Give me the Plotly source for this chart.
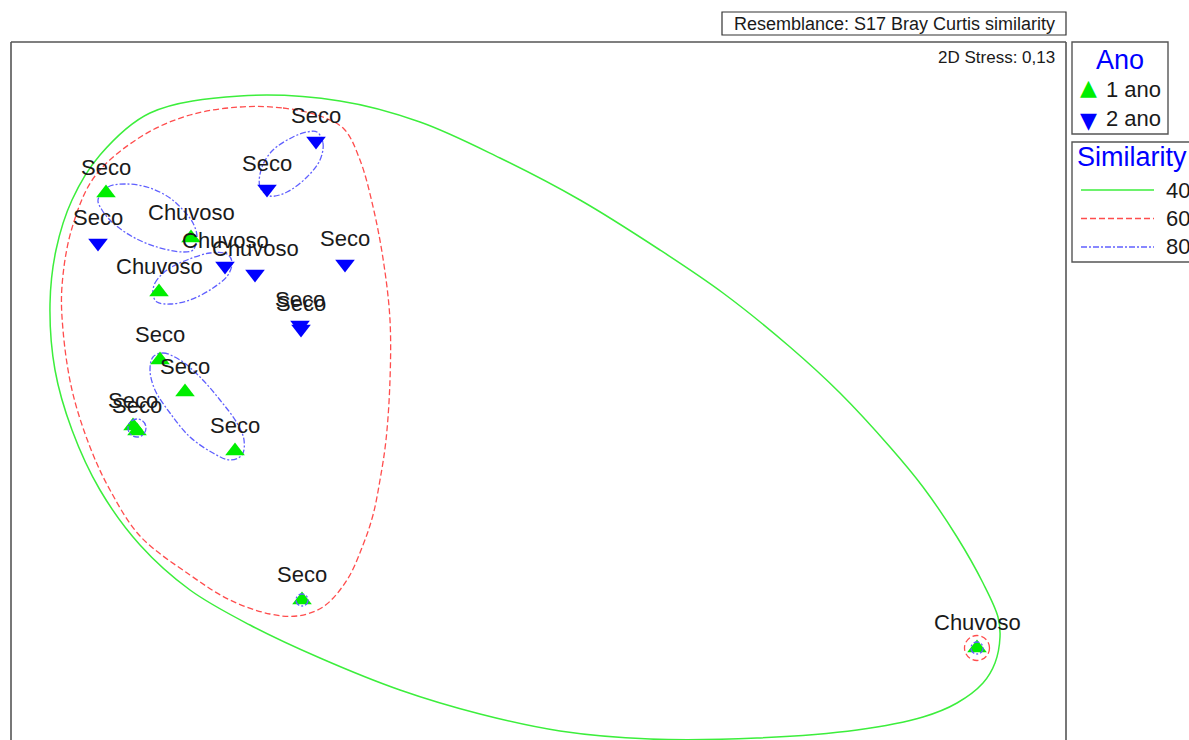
import plotly.graph_objects as go

# ---------------- data (NMDS coordinates, arbitrary units) ----------------
ano1_x = [-4.34, -3.49, -3.81, -3.80, -3.55, -4.07, -4.03, -3.05, -2.38, 4.37]
ano1_y = [1.97, 1.52, 0.98, 0.30, -0.02, -0.36, -0.41, -0.61, -2.10, -2.58]
ano1_lbl = ["Seco", "Chuvoso", "Chuvoso", "Seco", "Seco", "Seco", "Seco", "Seco", "Seco", "Chuvoso"]

ano2_x = [-4.42, -3.15, -2.85, -2.24, -2.73, -1.95, -2.40, -2.39]
ano2_y = [1.47, 1.24, 1.16, 2.49, 2.01, 1.26, 0.65, 0.61]
ano2_lbl = ["Seco", "Chuvoso", "Chuvoso", "Seco", "Seco", "Seco", "Seco", "Seco"]

# similarity contours (closed; first point repeated at end)
c40_x = [-3.00, -2.00, -1.20, -0.40, 0.40, 1.20, 1.83, 2.50, 3.00, 3.50, 3.83, 4.17, 4.43, 4.58, 4.60,
         4.55, 4.43, 4.17, 3.83, 3.17, 2.17, 1.10, 0.20, -0.60, -1.40, -2.20, -2.90, -3.50, -4.00,
         -4.40, -4.68, -4.85, -4.90, -4.84, -4.68, -4.40, -3.90, -3.00]
c40_y = [2.94, 2.89, 2.68, 2.32, 1.90, 1.40, 0.97, 0.43, -0.03, -0.57, -0.97, -1.47, -1.93, -2.27, -2.47,
         -2.73, -2.93, -3.13, -3.27, -3.40, -3.48, -3.49, -3.41, -3.24, -3.00, -2.68, -2.35, -2.00, -1.55,
         -1.00, -0.40, 0.20, 0.86, 1.40, 1.90, 2.35, 2.77, 2.94]

c60_x = [-3.00, -2.57, -2.20, -1.96, -1.80, -1.66, -1.56, -1.50, -1.50, -1.54, -1.60, -1.67, -1.77, -1.93,
         -2.17, -2.43, -2.70, -3.10, -3.50, -4.00, -4.30, -4.50, -4.68, -4.77, -4.78, -4.68, -4.45, -3.98,
         -3.50, -3.00]
c60_y = [2.83, 2.82, 2.74, 2.61, 2.30, 1.79, 1.25, 0.70, 0.10, -0.50, -0.90, -1.25, -1.55, -1.90,
         -2.17, -2.26, -2.24, -2.10, -1.85, -1.46, -1.00, -0.57, 0.00, 0.60, 1.04, 1.62, 2.14, 2.54,
         2.75, 2.83]

c80a_x = [-4.42, -4.32, -4.13, -3.90, -3.70, -3.57, -3.47, -3.43, -3.47, -3.57, -3.83, -4.07, -4.27, -4.38, -4.42]
c80a_y = [1.90, 2.03, 2.06, 2.02, 1.92, 1.80, 1.67, 1.53, 1.40, 1.38, 1.43, 1.53, 1.67, 1.80, 1.90]

c80b_x = [-2.23, -2.17, -2.20, -2.33, -2.53, -2.70, -2.80, -2.78, -2.67, -2.47, -2.33, -2.23]
c80b_y = [2.58, 2.47, 2.30, 2.13, 1.98, 1.94, 2.03, 2.23, 2.40, 2.53, 2.58, 2.58]

c80c_x = [-3.87, -3.85, -3.73, -3.53, -3.30, -3.13, -3.08, -3.12, -3.27, -3.50, -3.70, -3.83, -3.87]
c80c_y = [0.95, 1.07, 1.20, 1.30, 1.37, 1.36, 1.28, 1.15, 1.02, 0.90, 0.86, 0.88, 0.95]

c80d_x = [-3.87, -3.77, -3.60, -3.40, -3.20, -3.03, -2.96, -2.98, -3.10, -3.27, -3.50, -3.70, -3.85, -3.90, -3.87]
c80d_y = [0.33, 0.37, 0.30, 0.13, -0.10, -0.33, -0.50, -0.65, -0.70, -0.63, -0.47, -0.23, 0.00, 0.20, 0.33]

# single-sample contours (centre, radius, level)
circ_x = [-4.03, -2.38, 4.37, 4.37]
circ_y = [-0.38, -2.10, -2.58, -2.58]
circ_r = [0.09, 0.06, 0.06, 0.125]
circ_lvl = [80, 80, 80, 60]

legend_ano = ["1 ano", "2 ano"]
legend_sim = ["40", "60", "80"]

# ---------------- styles ----------------
FONT = "Liberation Sans, Arial, sans-serif"
GREEN = "#00ee00"
BLUE = "#0000ff"
LVL = {
    40: dict(color="#3cee3c", dash="solid", width=1.5),
    60: dict(color="#ff4d4d", dash="6px,3px", width=1.3),
    80: dict(color="#6060ff", dash="6px,2px,2px,2px", width=1.3),
}

fig = go.Figure()

def contour(xs, ys, lvl):
    st = LVL[lvl]
    fig.add_trace(go.Scatter(x=xs, y=ys, mode="lines", line_shape="spline",
                             line=dict(color=st["color"], dash=st["dash"], width=st["width"]),
                             hoverinfo="skip", showlegend=False))

contour(c40_x, c40_y, 40)
contour(c60_x, c60_y, 60)
for cx, cy in [(c80a_x, c80a_y), (c80b_x, c80b_y), (c80c_x, c80c_y), (c80d_x, c80d_y)]:
    contour(cx, cy, 80)

shapes = []
for x, y, r, l in zip(circ_x, circ_y, circ_r, circ_lvl):
    st = LVL[l]
    shapes.append(dict(type="circle", xref="x", yref="y", x0=x - r, x1=x + r, y0=y - r, y1=y + r,
                       line=dict(color=st["color"], dash=st["dash"], width=st["width"])))

fig.add_trace(go.Scatter(x=ano1_x, y=ano1_y, mode="markers", name="1 ano",
                         marker=dict(symbol="triangle-up", size=17, color=GREEN, line=dict(width=0)),
                         showlegend=False))
fig.add_trace(go.Scatter(x=ano2_x, y=ano2_y, mode="markers", name="2 ano",
                         marker=dict(symbol="triangle-down", size=17, color=BLUE, line=dict(width=0)),
                         showlegend=False))

annotations = []
for xs, ys, ls in [(ano1_x, ano1_y, ano1_lbl), (ano2_x, ano2_y, ano2_lbl)]:
    for x, y, t in zip(xs, ys, ls):
        annotations.append(dict(x=x, y=y, xref="x", yref="y", text=t, showarrow=False,
                                yshift=26, font=dict(family=FONT, size=22, color="#1a1a1a")))

# ---------------- frame, boxes and legends (paper coords from pixels) ----------------
L, R, T, B = 11, 1066, 42, 740
def px(x):
    return (x - L) / (R - L)
def py(y):
    return (B - y) / (B - T)

FRAME = dict(color="#555555", width=1.6)
shapes += [
    dict(type="line", xref="paper", yref="paper", x0=0, x1=0, y0=0, y1=1, line=FRAME),
    dict(type="line", xref="paper", yref="paper", x0=0, x1=1, y0=1, y1=1, line=FRAME),
    dict(type="line", xref="paper", yref="paper", x0=1, x1=1, y0=1, y1=0, line=FRAME),
    dict(type="rect", xref="paper", yref="paper", x0=px(722), x1=px(1066), y0=py(35), y1=py(12),
         line=dict(color="#333333", width=1.2)),
    dict(type="rect", xref="paper", yref="paper", x0=px(1072), x1=px(1168), y0=py(134), y1=py(42),
         line=dict(color="#555555", width=1.4)),
    dict(type="rect", xref="paper", yref="paper", x0=px(1072), x1=px(1200), y0=py(262), y1=py(142),
         line=dict(color="#555555", width=1.4)),
]

def txt(x, y, t, size, color="#1a1a1a", xanchor="left", family=FONT):
    annotations.append(dict(x=px(x), y=py(y), xref="paper", yref="paper", text=t, showarrow=False,
                            xanchor=xanchor, yanchor="middle",
                            font=dict(family=family, size=size, color=color)))

txt(894, 23.5, "Resemblance: S17 Bray Curtis similarity", 18, xanchor="center")
txt(1057, 58, "2D Stress: 0,13", 17, xanchor="right")

txt(1120, 60, "Ano", 27, color=BLUE, xanchor="center")
txt(1088, 88, "▲", 22, color=GREEN, xanchor="center", family="DejaVu Sans")
txt(1088, 120, "▼", 22, color=BLUE, xanchor="center", family="DejaVu Sans")
txt(1104, 90, legend_ano[0], 22)
txt(1104, 118, legend_ano[1], 22)

txt(1075, 157, "Similarity", 27, color=BLUE)
for i, (lvl, lab) in enumerate(zip([40, 60, 80], legend_sim)):
    yy = 190 + i * 28.5
    st = LVL[lvl]
    shapes.append(dict(type="line", xref="paper", yref="paper", x0=px(1081), x1=px(1154), y0=py(yy), y1=py(yy),
                       line=dict(color=st["color"], dash=st["dash"], width=st["width"])))
    txt(1164, yy, lab, 22)

fig.update_layout(
    width=1189, height=740,
    margin=dict(l=L, r=1189 - R, t=T, b=740 - B, pad=0),
    paper_bgcolor="white", plot_bgcolor="white",
    xaxis=dict(range=[-5.29, 5.26], visible=False, showgrid=False, zeroline=False),
    yaxis=dict(range=[-3.50, 3.48], visible=False, showgrid=False, zeroline=False),
    shapes=shapes, annotations=annotations, showlegend=False,
)

fig.write_html("out.html", config={"displayModeBar": False},
               post_script="document.body.style.margin='0px';document.body.style.overflow='hidden';")
